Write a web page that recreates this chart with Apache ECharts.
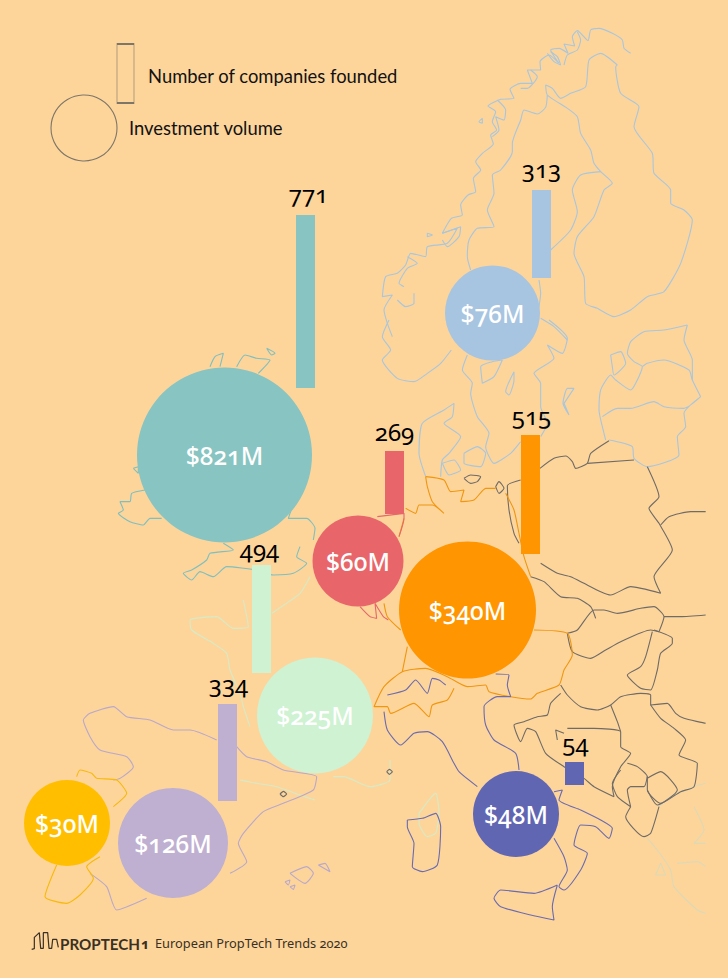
<!DOCTYPE html>
<html>
<head>
<meta charset="utf-8">
<title>European PropTech Trends 2020</title>
<style>
    html, body { margin: 0; padding: 0; background: #fdd59b; }
    #container { width: 728px; height: 978px; }
    /* 原图数字是旧式数字 */
    #container text { font-feature-settings: "onum" 1 !important; font-variant-numeric: oldstyle-nums !important; }
</style>
<script src="https://cdn.jsdelivr.net/npm/echarts@6/dist/echarts.min.js"></script>
</head>
<body>
<div id="container"></div>
<script>
// values
var companies = [771, 313, 269, 515, 494, 334, 54, null]
var investment = [821, 76, 60, 340, 225, 126, 48, 30]
var colors = ['#88c4c1', '#a7c5e0', '#e8666a', '#ff9500', '#cef2d2', '#bfb0d1', '#6166b3', '#ffbf00']

// layout on the page, same order as above
var barX = [305.5, 541.5, 394.5, 530.5, 261.5, 227.5, 574.5, null]
var barTop = [215, 190, 451, 435, 565, 704, 762, null]
var barBottom = [388, 278, 514, 554, 673, 801, 785, null]
var barLabelDx = [3, 0, 0, 1, -2, 1, 1, 0]
var barLabelDy = [-22, -22, -20, -20, -17, -21, -20, 0]
var circleX = [224.5, 492.5, 358, 467.5, 315, 173, 516, 67]
var circleY = [455, 313, 561, 610, 715.5, 843, 814, 823]
var circleSize = [175, 95, 91, 137, 116, 110, 86, 86]

// 地图轮廓, 从截图描出来的: 原点 + 3 倍坐标
var at = function (ox, oy, flat) {
    var res = []
    for (var i = 0; i < flat.length; i += 2) {
        res.push([ox + flat[i] / 3, oy + flat[i + 1] / 3])
    }
    return res
}

var nordicPaths = [
    // norway coast
    at(364, 20, [800,100,780,85,775,60,745,40,705,25,680,30,672,62,640,32,625,50,632,78,600,72,612,100,585,85,560,90,585,130,555,105,528,125,530,150,490,150,505,190,470,190,438,208,450,235,410,238,372,258,395,275,385,305,398,330,380,345,388,372,355,400,335,425,350,450,328,475,335,515,312,525,290,555,295,585,262,595,235,640,280,625,250,670,190,680,185,710,140,700,125,735,100,760,65,770,55,830,85,825,60,870,70,910,85,950]),
    at(364, 20, [640,35,650,60,640,90,610,105,600,135]),
    at(364, 20, [560,95,580,110,590,135,570,125,550,100]),
    at(364, 20, [500,150,520,170,490,205,470,205]),
    at(364, 20, [400,240,425,270,420,300,395,290,405,330,385,350]),
    at(364, 20, [355,295,345,305,355,310,355,295]),
    at(364, 20, [235,640,290,620,285,650,250,680,235,660]),
    at(364, 20, [130,710,160,730,130,745,105,790,120,800]),
    at(364, 20, [150,820,150,850,125,860,100,840]),
    at(364, 20, [190,640,205,645,190,650,190,640]),
    at(364, 320, [75,0,55,50,80,90,55,120,100,175,150,185,190,160,230,130,262,90]),
    // norway / sweden
    at(364, 20, [550,225,545,262,520,282,480,270,470,300,445,370,445,395,410,450,385,465,390,520,370,570,390,620,340,625,315,660,310,710,320,750]),
    // finland and the north
    at(364, 20, [760,135,710,100,675,120,665,200,620,220,590,235,565,205,545,195,550,225,610,265,640,290,650,340,680,390,690,430,710,455,745,490,720,510,690,590,640,650,630,700,660,770,665,850,700,865,750,890,800,870,850,830,900,815,950,730,985,600,960,570,920,550,920,510,870,460,865,400,810,320,825,260,770,220,755,140,760,135]),
    // sweden coast
    at(364, 20, [710,455,650,465,625,510,640,575,620,630,560,690]),
    at(364, 20, [525,780,530,820,525,860]),
    at(364, 20, [530,895,570,920,610,960]),
    at(364, 320, [555,0,610,55,595,100,550,75,570,115,510,160,530,190,530,260,550,310,530,350]),
    at(364, 320, [470,365,440,400,390,430,365,380,375,340,340,290,320,220,325,190,295,150,310,105]),
    at(364, 320, [355,190,350,140,385,125,415,120,390,170,355,190]),
    // gotland, oland
    at(364, 320, [600,250,630,205,610,205,597,250,615,285,600,250]),
    at(364, 320, [450,155,425,215,435,225,450,180,450,155]),
    // denmark
    at(364, 320, [185,470,165,400,175,310,240,270,270,250,265,290,240,310,290,350,255,400,235,420,230,470]),
    at(364, 320, [300,400,340,380,365,400,350,440,300,430,300,400]),
    at(364, 320, [235,430,270,420,290,450,255,465,235,430]),
    // baltics
    at(364, 320, [970,15,900,30,840,35,800,65,790,100,810,125,835,140,815,190,800,210,755,180,740,165,710,210,705,270,720,340,725,360]),
    at(364, 320, [835,140,850,130,900,120,975,150,985,180,1010,230]),
    at(364, 320, [970,15,960,60,985,120,985,180]),
    at(364, 320, [740,105,770,95,785,130,750,165,745,140,740,105]),
    at(364, 320, [715,290,760,265,800,265,870,245,900,260,960,265,1010,230,960,280,965,320,940,350,945,405,850,440,810,415,805,380,760,365,735,360]),
]

var ukPaths = [
    at(100, 320, [330,140,345,110,370,100,360,140]),
    at(100, 320, [410,140,435,105,470,115,510,120,475,160]),
    at(100, 320, [500,85,525,100,515,105,500,85]),
    at(100, 320, [100,445,115,440,115,460,100,445]),
    at(100, 320, [135,510,95,520,90,545,60,545,70,570,55,580,90,605,130,615,150,595,185,595]),
    at(100, 320, [575,565,565,595,620,595,645,625,640,660]),
    at(100, 320, [600,680,590,710,620,730,580,760,520,765,470,750,380,740,340,770,300,755,275,780,250,760,275,750,320,720,330,700,400,690,370,670]),
]

var francePaths = [
    at(0, 520, [930,170,900,220,830,270,815,280]),
    at(0, 520, [730,240,745,320,700,325,650,290,570,300,575,330,640,370,680,400,690,450,720,520,730,560,750,620]),
    at(0, 520, [720,780,770,790,830,800,900,825,945,840]),
    at(0, 520, [1000,770,1030,770,1110,800,1170,780,1170,720]),
    // corsica
    at(364, 600, [165,640,215,580,225,640,215,700,190,710,165,670,165,640]),
]

var spainPaths = [
    at(0, 520, [340,780,360,775,400,740,380,710,300,690,270,650,250,600,270,580,340,560,380,590,450,600,520,630,570,630,650,660]),
    at(0, 520, [710,680,740,710,800,725,850,750,950,770,940,810,850,850,790,875,730,940,715,970,740,1025,690,1060]),
    at(0, 520, [440,1135,350,1170,320,1100,270,1060]),
    at(0, 520, [870,1060,920,1040,940,1060,915,1090,870,1060]),
    at(0, 520, [955,1035,975,1030,990,1055,955,1035]),
    at(0, 520, [855,1085,870,1080,865,1095,855,1085]),
    at(0, 520, [870,1100,885,1095,880,1108,870,1100]),
]

var portugalPaths = [
    at(0, 520, [230,770,240,750,275,760,290,775,350,780,380,820,340,860]),
    at(0, 520, [170,1035,135,1130,200,1150,240,1125,280,1075,260,1040,300,1010]),
]

var germanyPaths = [
    at(364, 320, [185,470,240,480,260,515,300,510,290,545,330,540,365,505,395,505]),
    at(364, 320, [425,520,450,570,465,640,480,710,500,770]),
    at(364, 320, [125,565,155,580,165,555,205,555,240,580,205,545,190,500,185,470]),
    at(364, 320, [120,595,105,650]),
    // austria + swiss
    at(364, 600, [510,90,610,100,625,165,600,210,585,255,520,280,500,297,440,290,375,275,365,255,310,260,250,230,185,205,115,215,60,260,30,320,70,320,80,340,150,310,195,350,205,315,250,300,270,265]),
    at(364, 600, [130,140,115,215]),
    at(364, 600, [60,10,70,50,110,90]),
]

var beneluxPaths = [
    at(0, 520, [1080,260,1110,290,1130,295,1125,250,1150,290,1165,300]),
    at(364, 320, [40,590,120,580,120,595,105,650]),
]

var italyPaths = [
    at(364, 600, [60,335,70,390,110,435,150,400,190,395,235,425,270,490,285,515,340,560]),
    at(364, 600, [70,285,125,270,155,240,190,280,205,235,225,240,245,255]),
    at(364, 600, [465,510,455,460,390,420,365,375,360,320,400,290,440,290,430,255,435,225,395,222]),
    at(364, 600, [570,575,595,570,585,600,650,630,710,660,745,685,735,715,695,680,650,675,630,735,670,760,650,810,600,870,585,860,610,810,600,770,570,715]),
    at(364, 600, [580,855,510,880,410,870,390,895,410,920,500,945,570,960,565,920,580,855]),
    at(364, 600, [130,660,175,655,215,640,230,680,220,795,175,815,145,800,150,730,130,680,130,660]),
]

var eastPaths = [
    // poland
    at(364, 320, [735,362,680,400,670,430,635,445,625,425,605,408,570,415,528,445]),
    at(364, 320, [470,480,430,497,435,570,450,640,465,670]),
    at(364, 320, [670,430,810,420]),
    at(364, 320, [530,730,580,760,620,770,660,790,710,815,740,825,800,800,890,820,870,770,925,690,885,610,855,565,885,530,850,440]),
    at(364, 320, [890,615,915,590,980,575,1025,575]),
    // czech
    at(364, 320, [500,770,540,785,590,830,640,835,680,860,695,895]),
    at(364, 600, [610,100,640,90,690,30,720,30,760,40,830,25,870,20,900,50,885,95]),
    at(364, 600, [900,50,950,50,1025,45]),
    // slovak / hungary / romania
    at(364, 600, [610,100,625,155,680,175,725,150,770,125,860,90,885,95]),
    at(364, 600, [870,90,925,115,925,130,890,160,880,210,860,270,830,265,790,225,830,200,845,170,865,95]),
    at(364, 600, [590,255,610,285,650,320,700,330,740,315,770,290,830,280,860,285,860,315,910,310,935,340,960,355,1025,370]),
    at(364, 600, [860,315,890,355,930,385,965,420,945,465,1000,490,990,560,950,575,890,610,850,570,850,530,820,500,790,490]),
    // balkans
    at(364, 600, [590,280,560,310,550,345,520,350,480,365,450,375,470,425,490,385,515,395,545,460,600,500,660,535,690,560,750,590]),
    at(364, 600, [600,400,575,390,580,420]),
    at(364, 600, [610,385,690,385,770,395,770,440,800,460,770,500,745,560,750,590]),
    at(364, 600, [740,315,760,365,770,395]),
    at(364, 600, [850,535,890,515,940,570,880,615,850,570]),
    at(364, 600, [770,510,745,550,760,590,800,620,790,570,800,560,840,560,850,530]),
    at(364, 600, [800,620,785,650,840,710,860,700,885,620]),
    // rings in the sea
    at(364, 320, [300,475,320,465,350,470,340,485,320,490,300,475]),
    at(364, 320, [395,500,405,485,420,505,405,520,395,500]),
    at(0, 520, [840,822,850,814,860,822,850,830,840,822]),
    at(0, 520, [1160,755,1168,748,1177,755,1168,763,1160,755]),
]

var greecePaths = [
    at(364, 600, [885,620,920,590,990,560,1025,550]),
    at(364, 600, [850,715,880,750,920,810,930,860,1000,930,1025,940]),
    at(364, 600, [990,620,1020,690,990,730,1025,730]),
    at(364, 600, [890,790,875,825,905,825,890,790]),
    at(364, 600, [940,790,1000,785,1025,800]),
]

var mapLayers = [
    [greecePaths, '#dcd9b6'],
    [nordicPaths, '#a9c6dc'],
    [ukPaths, '#7fbfbe'],
    [francePaths, '#d6ebc6'],
    [spainPaths, '#b9a8c9'],
    [portugalPaths, '#f7b90a'],
    [eastPaths, '#6f6b66'],
    [germanyPaths, '#f0960f'],
    [beneluxPaths, '#e5686a'],
    [italyPaths, '#6b6bae'],
]

var logoLine = at(0, 910, [95,118,103,116,103,82,118,68,122,115,130,115,130,68,143,68,147,115,155,115,158,88,170,88,175,112])

var numberFont = 'Noto Sans'
var textFont = 'Lato'

var mapSeries = function () {
    var res = []
    mapLayers.forEach(function (layer) {
        layer[0].forEach(function (path) {
            res.push({
                type: 'line',
                data: path,
                symbol: 'none',
                silent: true,
                smooth: 0.2,
                z: 1,
                lineStyle: { color: layer[1], width: 1.1 },
            })
        })
    })
    return res
}

var barData = function () {
    var res = []
    for (var i = 0; i < companies.length; i++) {
        if (companies[i] !== null) {
            res.push({
                value: [barX[i], barTop[i], barBottom[i], companies[i], barLabelDx[i], barLabelDy[i]],
                itemStyle: { color: colors[i] },
            })
        }
    }
    return res
}

var renderBar = function (params, api) {
    var top = api.coord([api.value(0), api.value(1)])
    var bottom = api.coord([api.value(0), api.value(2)])
    var w = api.size([19, 0])[0]
    return {
        type: 'group',
        children: [
            {
                type: 'rect',
                shape: { x: top[0] - w / 2, y: top[1], width: w, height: bottom[1] - top[1] },
                style: { fill: api.visual('color') },
            },
            {
                type: 'text',
                style: {
                    x: top[0] + api.value(4),
                    y: top[1] + api.value(5),
                    text: String(api.value(3)),
                    fill: '#000',
                    font: '24px "' + numberFont + '"',
                    align: 'center',
                    verticalAlign: 'middle',
                },
            },
        ],
    }
}

var circleData = function () {
    var res = []
    for (var i = 0; i < investment.length; i++) {
        res.push({
            value: [circleX[i], circleY[i], investment[i]],
            symbolSize: circleSize[i],
            itemStyle: { color: colors[i], opacity: 1 },
        })
    }
    return res
}

var __main = function () {
    var dom = document.getElementById('container')
    var myChart = echarts.init(dom, null, { renderer: 'svg', width: 728, height: 978 })

    var series = mapSeries()
    series.push({
        type: 'line',
        data: logoLine,
        symbol: 'none',
        silent: true,
        z: 1,
        lineStyle: { color: '#3a3024', width: 1.2 },
    })
    series.push({
        type: 'custom',
        renderItem: renderBar,
        data: barData(),
        encode: { x: 0, y: 1 },
        z: 3,
    })
    series.push({
        type: 'scatter',
        data: circleData(),
        z: 4,
        label: {
            show: true,
            position: 'inside',
            color: '#fff',
            fontFamily: numberFont,
            fontWeight: 500,
            fontSize: 24.5,
            formatter: function (p) {
                return '$' + p.value[2] + 'M'
            },
        },
    })
    // 图例
    series.push({
        type: 'scatter',
        silent: true,
        z: 2,
        itemStyle: { color: 'transparent', borderColor: '#7d7668', borderWidth: 1.1, opacity: 1 },
        data: [
            { value: [125.5, 73.5], symbol: 'rect', symbolSize: [17, 59] },
            { value: [84, 128], symbol: 'circle', symbolSize: 66 },
        ],
    })

    var option = {
        animation: false,
        backgroundColor: '#fdd59b',
        grid: { left: 0, right: 0, top: 0, bottom: 0 },
        xAxis: { type: 'value', min: 0, max: 728, show: false },
        yAxis: { type: 'value', min: 0, max: 978, inverse: true, show: false },
        graphic: [
            { type: 'text', left: 148, top: 67, style: { text: 'Number of companies founded', fill: '#111', font: '18.4px ' + textFont } },
            { type: 'text', left: 129, top: 119, style: { text: 'Investment volume', fill: '#111', font: '18.4px ' + textFont } },
            { type: 'text', left: 60, top: 936, style: { text: 'PROPTECH', fill: '#3a3024', font: 'bold 15.2px ' + textFont } },
            { type: 'text', left: 141, top: 936, style: { text: '1', fill: '#3a3024', font: 'bold 14px "' + numberFont + '"' } },
            { type: 'text', left: 155, top: 936, style: { text: 'European PropTech Trends 2020', fill: '#3a3024', font: '12.8px "' + numberFont + '"' } },
        ],
        series: series,
    }
    myChart.setOption(option, true)
}

__main()
</script>
</body>
</html>
